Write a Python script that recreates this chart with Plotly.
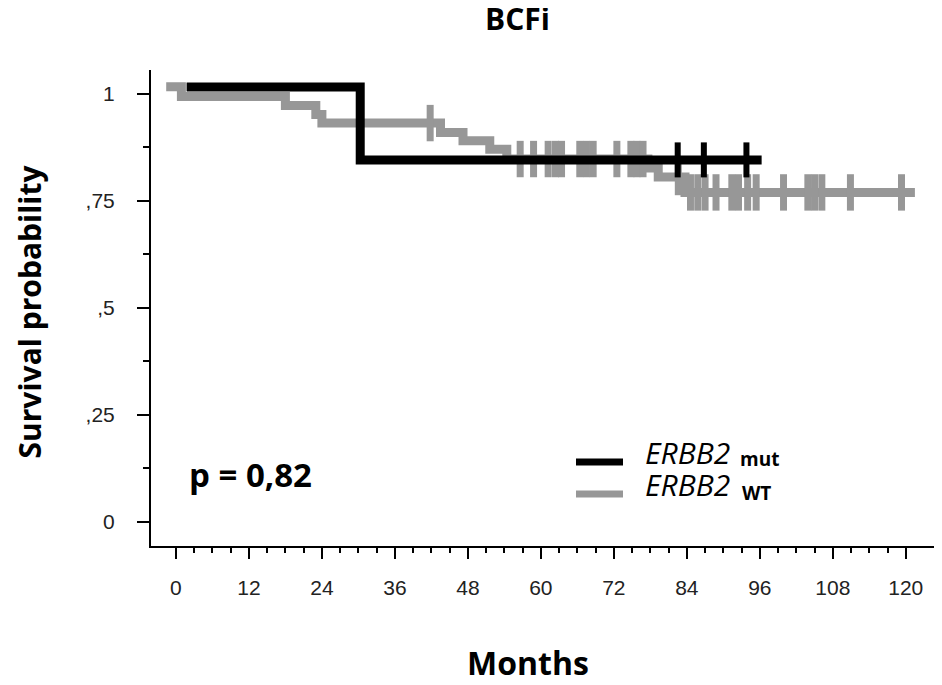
import numpy as np
import plotly.graph_objects as go

# ---------------- data ----------------
mut_times = [1.75, 30.3, 96.3]
mut_surv = [1.015, 0.845, 0.845]
mut_censor = [82.5, 86.8, 93.8]

wt_times = [-1.6, 0.9, 18.0, 23.0, 24.0, 43.5, 47.2, 51.6, 54.4, 77.6, 79.3, 83.7, 121.5]
wt_surv = [1.016, 0.993, 0.972, 0.951, 0.931, 0.909, 0.890, 0.870, 0.847, 0.826, 0.805, 0.769, 0.769]
wt_censor = [41.8, 56.6, 58.8, 61.2, 62.4, 63.4, 66.4, 67.5, 68.6, 72.5, 74.8, 75.8, 76.8,
             82.6, 84.6, 85.8, 87.0, 88.8, 91.4, 92.5, 94.0, 95.4, 99.9, 103.9, 105.0,
             106.2, 110.9, 119.3]

x_ticks = [0, 12, 24, 36, 48, 60, 72, 84, 96, 108, 120]
x_minor = [v for v in range(3, 121, 3) if v % 12 != 0]
y_ticks = [0, 0.25, 0.5, 0.75, 1.0]
y_ticktext = ["0", ",25", ",5", ",75", "1"]
y_minor = [0.125, 0.375, 0.625, 0.875]

title = "BCFi"
x_title = "Months"
y_title = "Survival probability"
p_text = "p = 0,82"

BLACK = "#000000"
GRAY = "#979797"


def level_at(times, surv, t):
    idx = np.searchsorted(np.array(times), t, side="right") - 1
    return [surv[i] for i in idx]


fig = go.Figure()

# WT curve
fig.add_trace(go.Scatter(x=wt_times, y=wt_surv, mode="lines", line=dict(color=GRAY, width=9, shape="hv"),
                         showlegend=False, hoverinfo="skip"))
fig.add_trace(go.Scatter(x=wt_censor, y=level_at(wt_times, wt_surv, wt_censor), mode="markers",
                         marker=dict(symbol="line-ns", size=26, line=dict(color=GRAY, width=7)),
                         showlegend=False, hoverinfo="skip"))
# mut curve
fig.add_trace(go.Scatter(x=mut_times, y=mut_surv, mode="lines", line=dict(color=BLACK, width=9, shape="hv"),
                         showlegend=False, hoverinfo="skip"))
fig.add_trace(go.Scatter(x=mut_censor, y=level_at(mut_times, mut_surv, mut_censor), mode="markers",
                         marker=dict(symbol="line-ns", size=25, line=dict(color=BLACK, width=6)),
                         showlegend=False, hoverinfo="skip"))

# page body has an 8px default margin: figure is sized/offset to compensate
OFF = 8
W, H = 926, 669
L, R, T, B = 143, 0, 62, 131
PW, PH = W - L - R, H - T - B


def px(x):
    return (x - OFF - L) / PW


def py(y):
    return (H - B - (y - OFF)) / PH


tick_font = dict(family="Liberation Sans Narrow, Liberation Sans, Arial", size=21, color="#222222")
bold = "Open Sans"

annotations = [
    dict(text=f"<b>{title}</b>", x=px(517), y=py(19), xref="paper", yref="paper", showarrow=False,
         xanchor="center", yanchor="middle", font=dict(family=bold, size=30, color="black")),
    dict(text=f"<b>{x_title}</b>", x=px(528), y=py(662), xref="paper", yref="paper", showarrow=False,
         xanchor="center", yanchor="middle", font=dict(family=bold, size=32, color="black")),
    dict(text=f"<b>{y_title}</b>", x=px(28.5), y=py(312), xref="paper", yref="paper", showarrow=False,
         textangle=-90, xanchor="center", yanchor="middle", font=dict(family=bold, size=30, color="black")),
    dict(text=f"<b>{p_text}</b>", x=px(187), y=py(474), xref="paper", yref="paper", showarrow=False,
         xanchor="left", yanchor="middle", font=dict(family=bold, size=33, color="black")),
    # legend texts
    dict(text="<i>ERBB2</i>", x=px(643), y=py(452), xref="paper", yref="paper", showarrow=False,
         xanchor="left", yanchor="middle", font=dict(family=bold, size=30, color="black")),
    dict(text="<b>mut</b>", x=px(738), y=py(459), xref="paper", yref="paper", showarrow=False,
         xanchor="left", yanchor="middle", font=dict(family=bold, size=19, color="black")),
    dict(text="<i>ERBB2</i>", x=px(643), y=py(484), xref="paper", yref="paper", showarrow=False,
         xanchor="left", yanchor="middle", font=dict(family=bold, size=30, color="black")),
    dict(text="<b>WT</b>", x=px(740), y=py(493), xref="paper", yref="paper", showarrow=False,
         xanchor="left", yanchor="middle", font=dict(family=bold, size=19, color="black")),
]

shapes = [
    dict(type="line", xref="paper", yref="paper", x0=px(576), x1=px(623), y0=py(462), y1=py(462),
         line=dict(color=BLACK, width=7)),
    dict(type="line", xref="paper", yref="paper", x0=px(576), x1=px(623), y0=py(494), y1=py(494),
         line=dict(color=GRAY, width=7)),
]

x_range = [-4.1, -4.1 + PW / 6.082]

fig.update_layout(
    width=W, height=H,
    margin=dict(l=L, r=R, t=T, b=B, autoexpand=False),
    paper_bgcolor="white", plot_bgcolor="white",
    showlegend=False,
    annotations=annotations,
    shapes=shapes,
    xaxis=dict(range=x_range, tickmode="array", tickvals=x_ticks,
               ticks="outside", ticklen=11, tickwidth=2, tickcolor="black",
               showline=True, linewidth=2, linecolor="black", showgrid=False, zeroline=False,
               tickfont=tick_font, ticklabelstandoff=11,
               minor=dict(tickvals=x_minor, ticks="outside", ticklen=5, tickwidth=1.5, tickcolor="black")),
    yaxis=dict(range=[-0.057, 1.055], tickmode="array", tickvals=y_ticks, ticktext=y_ticktext,
               ticks="outside", ticklen=12, tickwidth=2, tickcolor="black",
               showline=True, linewidth=2, linecolor="black", showgrid=False, zeroline=False,
               tickfont=tick_font, ticklabelstandoff=18,
               minor=dict(tickvals=y_minor, ticks="outside", ticklen=6, tickwidth=1.5, tickcolor="black")),
)

fig.write_html("out.html")
